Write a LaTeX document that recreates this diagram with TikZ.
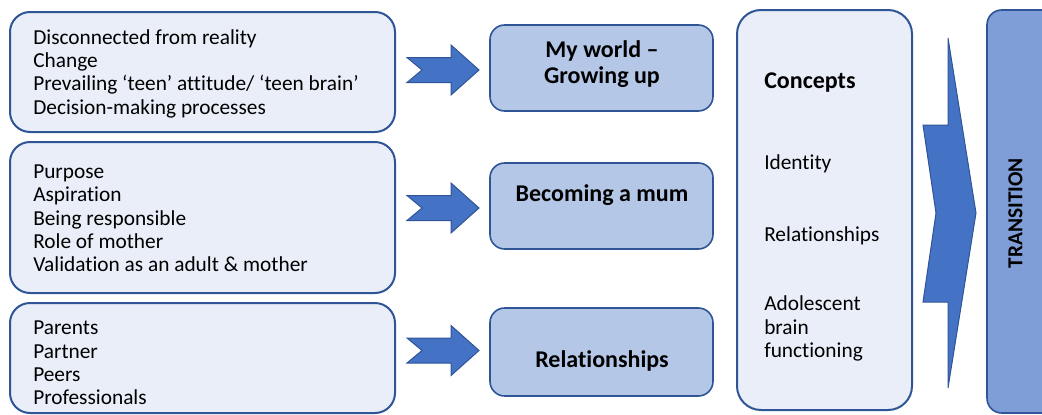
\documentclass[tikz,border=0pt]{standalone}
\usepackage{fontspec}
\setmainfont[Ligatures=NoCommon]{Carlito}
\usetikzlibrary{positioning}

\tikzset{
  outerbox/.style={draw=boxblue,line width=1.5pt,fill=paleblue,rounded corners=15pt,inner sep=0pt},
  themebox/.style={draw=boxblue,line width=1.2pt,fill=midblue,rounded corners=11pt,inner sep=0pt,minimum width=167.25pt},
  itemlist/.style={align=left,font=\fontsize{16}{17.5}\selectfont,inner sep=0pt,anchor=west},
  heading/.style={align=center,font=\bfseries\fontsize{18}{19.5}\selectfont,inner sep=0pt},
  blockarrow/.style={draw=boxblue,line width=0.75pt,fill=arrowblue,line join=miter}
}

\begin{document}
\begin{tikzpicture}[x=0.75pt,y=-0.75pt]
	\definecolor{boxblue}{HTML}{2F5597}
	\definecolor{paleblue}{HTML}{E9EEF8}
	\definecolor{midblue}{HTML}{B4C7E7}
	\definecolor{arrowblue}{HTML}{4472C4}
	\definecolor{transblue}{HTML}{7F9DD6}
	\useasboundingbox (0,0) rectangle (1042,414);

	\node[outerbox,minimum width=288.75pt,minimum height=90pt] (reality) at (202.5,72) {};
	\node[outerbox,minimum width=288.75pt,minimum height=113.25pt] (purpose) at (202.5,217.5) {};
	\node[outerbox,minimum width=288.75pt,minimum height=82.5pt] (people) at (202.5,358) {};
	\node[itemlist] (reality-text) at (33,73.5) {Disconnected from reality\\Change\\Prevailing ‘teen’ attitude/ ‘teen brain’\\Decision-making processes};
	\node[itemlist] (purpose-text) at (33,218.5) {Purpose\\Aspiration\\Being responsible\\Role of mother\\Validation as an adult \& mother};
	\node[itemlist] (people-text) at (33,363) {Parents\\Partner\\Peers\\Professionals};

	\draw[blockarrow] (407,57.5) -- (451,57.5) -- (451,45) -- (479,70) -- (451,95) -- (451,82.5) -- (407,82.5) -- (422,70) -- cycle;
	\draw[blockarrow] (407,195.5) -- (451,195.5) -- (451,183) -- (479,208) -- (451,233) -- (451,220.5) -- (407,220.5) -- (422,208) -- cycle;
	\draw[blockarrow] (407,338) -- (451,338) -- (451,325.5) -- (479,350.5) -- (451,375.5) -- (451,363) -- (407,363) -- (422,350.5) -- cycle;

	\node[themebox,minimum height=64.5pt] (world) at (601.5,68) {};
	\node[themebox,minimum height=64.5pt] (mum) at (601.5,206) {};
	\node[themebox,minimum height=66pt] (rel) at (601.5,352) {};
	\node[heading] (world-text) at (602,64) {My world --\\Growing up};
	\node[heading] (mum-text) at (602,195.5) {Becoming a mum};
	\node[heading] (rel-text) at (602,360.5) {Relationships};

	\node[outerbox,rounded corners=18pt,minimum width=131.25pt,minimum height=300pt] (concepts) at (824.5,210) {};
	\node[heading,anchor=west] (concepts-title) at (764,83) {Concepts};
	\node[itemlist] (identity) at (764,164) {Identity};
	\node[itemlist] (relationships) at (764,236) {Relationships};
	\node[itemlist] (brain) at (764,328.5) {Adolescent\\brain\\functioning};

	\draw[blockarrow] (948,38) -- (976,213) -- (948,388) -- (948,302) -- (923,302) -- (936,213) -- (923,125) -- (948,125) -- cycle;

	\node[draw=boxblue,line width=1.2pt,fill=transblue,rounded corners=11pt,minimum width=54.75pt,minimum height=302.25pt] (transition) at (1023.5,211.5) {};
	\node[rotate=90,font=\bfseries\fontsize{16}{18}\selectfont,inner sep=0pt] (transition-text) at (1015.5,213) {TRANSITION};
\end{tikzpicture}
\end{document}
